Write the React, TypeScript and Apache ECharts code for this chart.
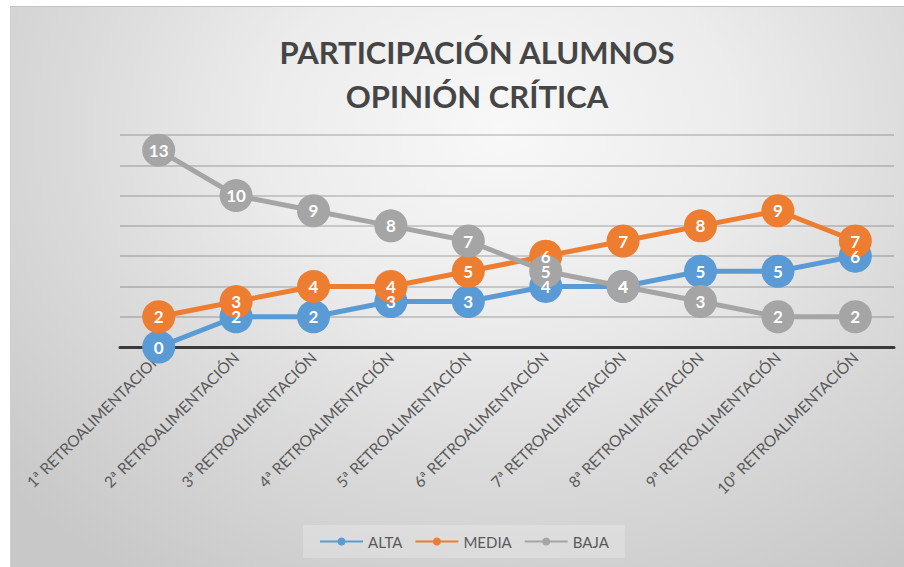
import React, { useEffect, useRef } from "react";
import * as echarts from "echarts";

const categories = [
  "1ª RETROALIMENTACION",
  "2ª RETROALIMENTACIÓN",
  "3ª RETROALIMENTACIÓN",
  "4ª RETROALIMENTACIÓN",
  "5ª RETROALIMENTACIÓN",
  "6ª RETROALIMENTACIÓN",
  "7ª RETROALIMENTACIÓN",
  "8ª RETROALIMENTACIÓN",
  "9ª RETROALIMENTACIÓN",
  "10ª RETROALIMENTACIÓN",
];
const alta = [0, 2, 2, 3, 3, 4, 4, 5, 5, 6];
const media = [2, 3, 4, 4, 5, 6, 7, 8, 9, 7];
const baja = [13, 10, 9, 8, 7, 5, 4, 3, 2, 2];
const seriesNames = ["ALTA", "MEDIA", "BAJA"];
const colors = ["#5B9BD5", "#ED7D31", "#A5A5A5"];
const titleText = "PARTICIPACIÓN ALUMNOS\nOPINIÓN CRÍTICA";

const FONT = "Lato, 'Open Sans', sans-serif";

export default function App() {
  const ref = useRef<HTMLDivElement>(null);
  useEffect(() => {
    document.body.style.margin = "0";
    if (!ref.current) return;
    const chart = echarts.init(ref.current, undefined, { renderer: "svg" });
    const mk = (name: string, data: number[], color: string) => ({
      name,
      type: "line",
      data,
      symbol: "circle",
      symbolSize: 33,
      itemStyle: { color },
      lineStyle: { color, width: 5 },
      label: {
        show: true,
        position: "inside",
        color: "#ffffff",
        fontFamily: FONT,
        fontWeight: "bold",
        fontSize: 17,
      },
      emphasis: { disabled: true },
    });
    chart.setOption({
      animation: false,
      backgroundColor: "transparent",
      title: {
        text: titleText,
        left: 467,
        top: 24,
        padding: 0,
        textAlign: "center",
        textStyle: {
          fontFamily: FONT,
          fontWeight: "bold",
          fontSize: 31,
          lineHeight: 44,
          color: "#454545",
        },
      },
      legend: {
        data: seriesNames,
        left: 293,
        top: 519,
        padding: [9, 16, 9, 16],
        backgroundColor: "rgba(255,255,255,0.22)",
        itemWidth: 43,
        itemHeight: 10,
        itemGap: 12,
        textStyle: { fontFamily: FONT, fontSize: 15, color: "#595959" },
      },
      grid: { left: 110, right: 10, top: 129, bottom: 220, containLabel: false },
      xAxis: {
        type: "category",
        data: categories,
        boundaryGap: true,
        axisLine: { lineStyle: { color: "#3a3a3a", width: 3 } },
        axisTick: { show: false },
        axisLabel: {
          interval: 0,
          rotate: 45,
          margin: 8,
          fontFamily: FONT,
          fontSize: 15.5,
          color: "#5a5a5a",
        },
      },
      yAxis: {
        type: "value",
        min: 0,
        max: 14,
        interval: 2,
        axisLine: { show: false },
        axisTick: { show: false },
        axisLabel: { show: false },
        splitLine: { lineStyle: { color: "rgba(0,0,0,0.16)", width: 2 } },
      },
      series: [
        mk(seriesNames[0], alta, colors[0]),
        mk(seriesNames[1], media, colors[1]),
        mk(seriesNames[2], baja, colors[2]),
      ],
    });
    return () => chart.dispose();
  }, []);
  return (
    <div style={{ position: "relative", width: 904, height: 567, background: "#ffffff", overflow: "hidden" }}>
      <div
        style={{
          position: "absolute",
          left: 10,
          top: 6,
          width: 894,
          height: 561,
          borderTop: "1px solid #c4c4c4",
          borderLeft: "1px solid #cfcfcf",
          boxSizing: "border-box",
          background:
            "radial-gradient(ellipse 75% 95% at 55% 22%, #f8f8f8 0%, #ececec 35%, #dadada 65%, #c8c8c8 100%)",
        }}
      />
      <div ref={ref} style={{ position: "absolute", left: 10, top: 6, width: 894, height: 561 }} />
    </div>
  );
}
